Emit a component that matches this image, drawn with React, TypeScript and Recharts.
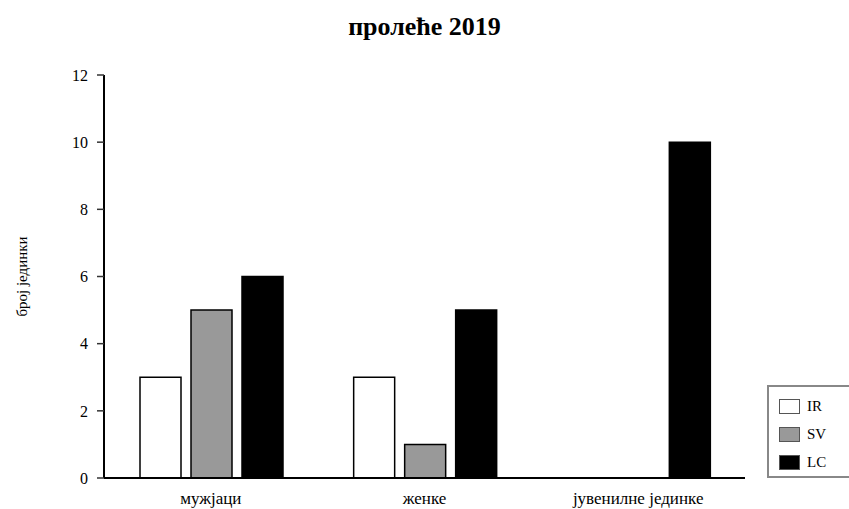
import { BarChart, Bar, XAxis, YAxis } from 'recharts'

const categories = ['мужјаци', 'женке', 'јувенилне јединке']
const irValues = [3, 3, 0]
const svValues = [5, 1, 0]
const lcValues = [6, 5, 10]
const yTicks = [0, 2, 4, 6, 8, 10, 12]

const series = [
  { key: 'IR', fill: '#ffffff' },
  { key: 'SV', fill: '#999999' },
  { key: 'LC', fill: '#000000' },
]

const data = categories.map((name, i) => ({
  name,
  IR: irValues[i],
  SV: svValues[i],
  LC: lcValues[i],
}))

const FONT = "'Liberation Serif', 'Times New Roman', serif"

// rotated y-axis title, centred on the plot height
function YTitle({ viewBox }: any) {
  const x = viewBox.x + 22
  const y = viewBox.y + viewBox.height / 2
  return (
    <text x={x} y={y} transform={`rotate(-90 ${x} ${y})`} textAnchor="middle"
          dominantBaseline="central" fontFamily={FONT} fontSize={15} fill="#000">
      број јединки
    </text>
  )
}

// boxed legend in the lower right corner
function LegendBox() {
  return (
    <div style={{
      position: 'absolute', left: 767, top: 385,
      border: '2px solid #888', width: 90, height: 93, boxSizing: 'border-box',
      padding: '5px 0 0 10px', fontFamily: FONT, fontSize: 15, color: '#000',
    }}>
      {series.map((s) => (
        <div key={s.key} style={{ display: 'flex', alignItems: 'center', height: 28 }}>
          <span style={{
            display: 'inline-block', width: 21, height: 15, boxSizing: 'border-box',
            border: '1.5px solid #555', background: s.fill, marginRight: 7,
          }} />
          <span>{s.key}</span>
        </div>
      ))}
    </div>
  )
}

export default function App() {
  return (
    <div style={{ position: 'fixed', left: 0, top: 0, width: 849, height: 509,
                  overflow: 'hidden', background: '#fff' }}>
      <div style={{ position: 'absolute', top: 10, width: 849, textAlign: 'center',
                    fontFamily: FONT, fontWeight: 'bold', fontSize: 26, lineHeight: '34px' }}>
        пролеће 2019
      </div>
      <BarChart width={849} height={509} data={data}
                margin={{ top: 75, right: 104, bottom: 0, left: 0 }}
                barCategoryGap={36} barGap={10}>
        <XAxis dataKey="name" height={31} axisLine={{ stroke: '#000', strokeWidth: 2 }}
               tickLine={false} tickSize={0} tickMargin={14}
               tick={{ fill: '#000', fontSize: 17, fontFamily: FONT }} />
        <YAxis width={104} domain={[0, 12]} ticks={yTicks} interval={0}
               axisLine={{ stroke: '#000', strokeWidth: 2 }}
               tickLine={{ stroke: '#333', strokeWidth: 1.5 }} tickSize={7} tickMargin={9}
               tick={{ fill: '#000', fontSize: 16, fontFamily: FONT }}
               label={<YTitle />} />
        {series.map((s) => (
          <Bar key={s.key} dataKey={s.key} fill={s.fill} stroke="#000" strokeWidth={1.5}
               isAnimationActive={false} />
        ))}
      </BarChart>
      <LegendBox />
    </div>
  )
}
